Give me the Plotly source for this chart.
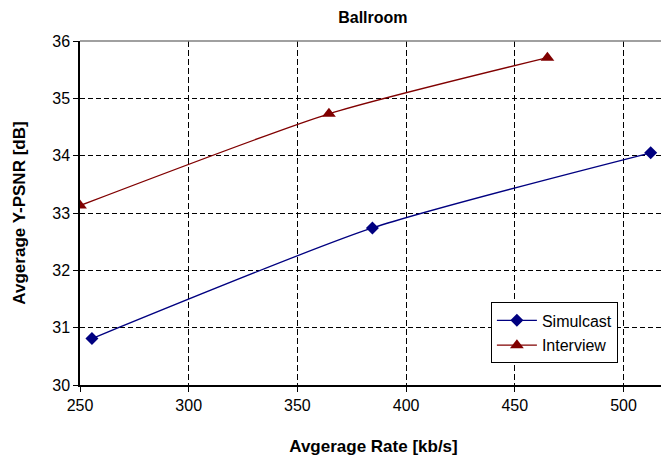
import plotly.graph_objects as go

sim_x = [255.5, 384.5, 512.5]
sim_y = [30.81, 32.74, 34.05]
int_x = [250.0, 364.5, 465.0]
int_y = [33.13, 34.73, 35.71]

title = "Ballroom"
x_title = "Avgerage Rate [kb/s]"
y_title = "Avgerage Y-PSNR [dB]"

FONT = "Liberation Sans, Arial, sans-serif"

fig = go.Figure()
fig.add_trace(go.Scatter(
    x=sim_x, y=sim_y, name="Simulcast", mode="lines+markers", legendgroup="a",
    line=dict(color="#000080", width=1.3, shape="spline", smoothing=0.6),
    marker=dict(symbol="diamond", size=10, color="#000080"),
))
fig.add_trace(go.Scatter(
    x=int_x, y=int_y, name="Interview", mode="lines+markers", legendgroup="b",
    line=dict(color="#800000", width=1.3, shape="spline", smoothing=0.6),
    marker=dict(symbol="triangle-up", size=12, color="#800000"),
))

fig.update_layout(
    width=661, height=448,
    margin=dict(l=72, r=2, t=33, b=71, autoexpand=False),
    paper_bgcolor="white", plot_bgcolor="white",
    font=dict(family=FONT, size=16, color="#000000"),
    title=dict(text="<b>" + title + "</b>", x=0.552, xanchor="center",
               y=0.98, yanchor="middle", font=dict(size=16)),
    showlegend=True,
    legend=dict(x=0.7, y=0.24, xanchor="left", yanchor="top",
                bgcolor="white", bordercolor="#000000", borderwidth=1,
                font=dict(size=16), tracegroupgap=1, itemwidth=40),
    xaxis=dict(
        range=[250, 520], tickvals=[250, 300, 350, 400, 450, 500],
        showgrid=True, gridcolor="#000000", griddash="6px,3px", gridwidth=1,
        showline=True, linecolor="#000000", linewidth=1.5,
        ticks="outside", ticklen=5, tickcolor="#000000", automargin=False,
        zeroline=False, tickfont=dict(size=16),
        title=dict(text="<b>" + x_title + "</b>", font=dict(size=17), standoff=30),
    ),
    yaxis=dict(
        range=[30, 36], tickvals=[30, 31, 32, 33, 34, 35, 36],
        showgrid=True, gridcolor="#000000", griddash="5px,3px", gridwidth=1,
        showline=True, linecolor="#000000", linewidth=1.5,
        ticks="outside", ticklen=5, tickcolor="#000000", automargin=False,
        zeroline=False, tickfont=dict(size=16),
        title=dict(text="<b>" + y_title + "</b>", font=dict(size=17), standoff=22),
    ),
)
fig.add_shape(type="line", xref="paper", yref="paper", x0=0, x1=1, y0=1, y1=1,
              line=dict(color="#808080", width=1.5))

fig.write_html("out.html")
